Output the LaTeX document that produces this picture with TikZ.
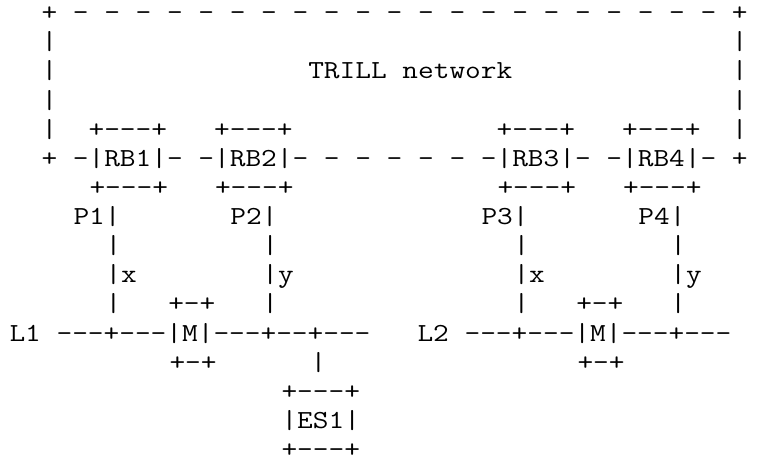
\documentclass[tikz,border=0pt]{standalone}

\tikzset{asciirow/.style={anchor=base west,inner sep=0pt,outer sep=0pt,xscale=1.172,font=\fontsize{13}{14}\selectfont}}

\begin{document}
\begin{tikzpicture}[x=8pt,y=-14.56pt]
\useasboundingbox (-0.594,-0.711) rectangle (46.719,15.12);

\node[asciirow] (nettop) at (2,0) {\verb!+ - - - - - - - - - - - - - - - - - - - - - +!};
\node[asciirow] (netside1) at (2,1) {\verb!|                                           |!};
\node[asciirow] (trill) at (2,2) {\verb!|                TRILL network              |!};
\node[asciirow] (netside2) at (2,3) {\verb!|                                           |!};
\node[asciirow] (rbtops) at (2,4) {\verb!|  +---+   +---+             +---+   +---+  |!};
\node[asciirow] (rbrow) at (2,5) {\verb!+ -|RB1|- -|RB2|- - - - - - -|RB3|- -|RB4|- +!};
\node[asciirow] (rbbottoms) at (5,6) {\verb!+---+   +---+             +---+   +---+!};
\node[asciirow] (ports) at (4,7) {\verb!P1|       P2|             P3|       P4|!};
\node[asciirow] (links1) at (6,8) {\verb!|         |               |         |!};
\node[asciirow] (linkxy) at (6,9) {\verb!|x        |y              |x        |y!};
\node[asciirow] (links2) at (6,10) {\verb!|   +-+   |               |   +-+   |!};
\node[asciirow] (lans) at (0,11) {\verb!L1 ---+---|M|---+--+---   L2 ---+---|M|---+---!};
\node[asciirow] (mbottoms) at (10,12) {\verb!+-+      |                +-+!};
\node[asciirow] (estop) at (17,13) {\verb!+---+!};
\node[asciirow] (es1) at (17,14) {\verb!|ES1|!};
\node[asciirow] (esbottom) at (17,15) {\verb!+---+!};
\end{tikzpicture}
\end{document}
